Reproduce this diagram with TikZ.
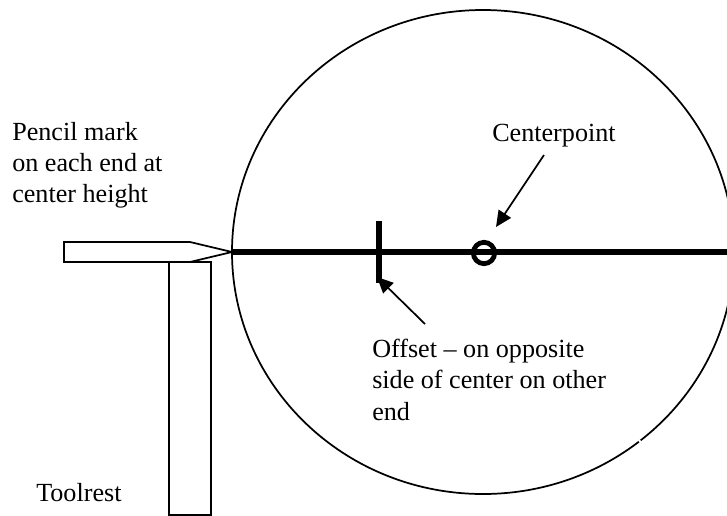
\documentclass[tikz,border=0pt]{standalone}
\usepackage{fontspec}
\setmainfont{Liberation Serif}
\usetikzlibrary{arrows.meta}

\begin{document}
\begin{tikzpicture}[x=0.75pt, y=-0.75pt,
    outline/.style={draw=black, line width=1.3pt, line join=miter},
    heavy/.style={draw=black, line width=3.8pt},
    ring/.style={circle, draw=black, line width=3.6pt, minimum size=16pt, inner sep=0pt},
    pointer/.style={draw=black, line width=1.3pt, -{Triangle[length=12pt, width=11pt]}},
    label/.style={font=\fontsize{19.6}{23.4}\selectfont, align=left, inner sep=0pt},
]
\useasboundingbox (0,0) rectangle (727,515);

% Workpiece
\draw[outline] (483,252) ellipse [x radius=251, y radius=242];
\draw[white, line width=2.2pt] (639,441.7) -- (640.6,440.5);

% Toolrest
\draw[outline] (169,515) -- (169,262) -- (211,262) -- (211,515) -- cycle;

% Pencil
\fill[white] (64,242) -- (190,242) -- (232,252) -- (190,262) -- (64,262) -- cycle;
\draw[outline] (64,242) -- (190,242) -- (232,252) -- (190,262) -- (64,262) -- cycle;
\coordinate (tip) at (232,252);

% Center line
\coordinate (lineend) at (727,252);
\draw[heavy] (tip) -- (lineend);
\node[ring] (center) at (484,253) {};

% Offset mark
\coordinate (offtop) at (379,221);
\coordinate (offbot) at (379,283);
\draw[draw=black, line width=4.2pt] (offtop) -- (offbot);

% Labels
\node[label, anchor=north west] (pencil) at (12,122) {Pencil mark\\on each end at\\center height};
\node[label, anchor=base west] (centerlabel) at (492,141) {Centerpoint};
\node[label, anchor=north west] (offset) at (372,339) {Offset -- on opposite\\side of center on other\\end};
\node[label, anchor=base west] (toolrest) at (36,501) {Toolrest};

% Arrows
\coordinate (ctail) at (544,155);
\coordinate (chead) at (496,227);
\coordinate (otail) at (425,324);
\coordinate (ohead) at (377,277);
\draw[pointer] (ctail) -- (chead);
\draw[pointer] (otail) -- (ohead);

\end{tikzpicture}
\end{document}
